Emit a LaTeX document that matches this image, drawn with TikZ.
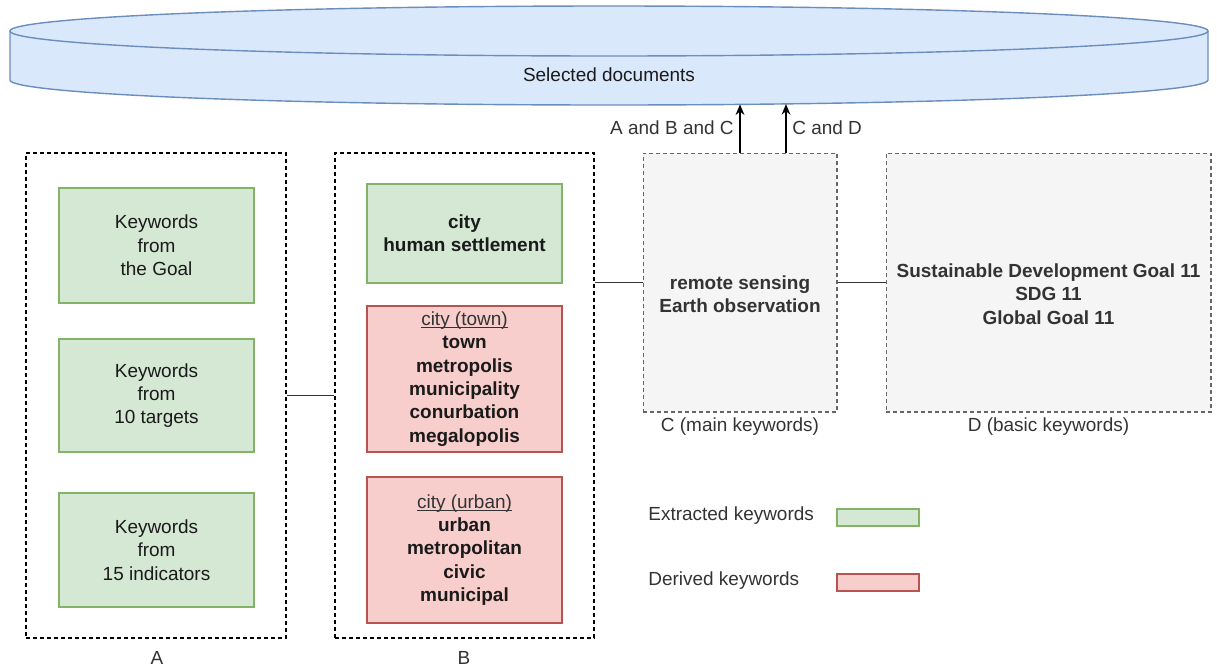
\documentclass[tikz,border=0pt]{standalone}
\usepackage{fontspec}
\setmainfont{Liberation Sans}
\usetikzlibrary{arrows.meta}
\definecolor{dbfill}{HTML}{DAE8FC}
\definecolor{dbline}{HTML}{6C8EBF}
\definecolor{gfill}{HTML}{D5E8D4}
\definecolor{gline}{HTML}{82B366}
\definecolor{rfill}{HTML}{F8CECC}
\definecolor{rline}{HTML}{B85450}
\definecolor{cfill}{HTML}{F5F5F5}
\definecolor{cline}{HTML}{666666}
\definecolor{txt}{HTML}{1A1A1A}
\definecolor{lbl}{HTML}{333333}
\newcommand\myul[1]{\setbox0=\hbox{#1}\rlap{\rule[-1.5pt]{\wd0}{0.45pt}}\box0}
\tikzset{
  base/.style={font=\fontsize{10.8}{13.3}\selectfont, text=txt, align=center, inner sep=0pt},
  groupbox/.style={draw=black, line width=0.9pt, dash pattern=on 0.08cm off 0.06cm, inner sep=0pt},
  kwbox/.style={draw=cline, fill=cfill, line width=0.6pt, dash pattern=on 0.08cm off 0.06cm, inner sep=0pt},
  greenbox/.style={base, draw=gline, fill=gfill, line width=0.6pt, minimum width=3.9cm},
  redbox/.style={base, draw=rline, fill=rfill, line width=0.6pt, minimum width=3.9cm, minimum height=2.92cm, font=\fontsize{10.8}{13.3}\selectfont\bfseries},
  lab/.style={base, text=lbl},
  conn/.style={draw=lbl, line width=1pt},
  arr/.style={draw=black, line width=0.9pt, -{Stealth[length=6pt,width=5pt]}}
}
\begin{document}
\begin{tikzpicture}[x=0.02cm,y=-0.02cm]
\useasboundingbox (0,0) rectangle (1217,670);
% cylinder
\path[fill=dbfill] (10,31) -- (10,80) arc[start angle=180,end angle=0,x radius=599,y radius=25] -- (1208,31) arc[start angle=0,end angle=-180,x radius=599,y radius=25] -- cycle;
\draw[dbline, line width=0.8pt] (609,31) ellipse[x radius=599,y radius=25];
\draw[dbline, line width=0.8pt] (10,31) -- (10,80) arc[start angle=180,end angle=0,x radius=599,y radius=25] -- (1208,31);
\node[base] (db) at (609,75) {Selected documents};
\coordinate (dbA) at (740,104.4);
\coordinate (dbB) at (786,104.1);

% group boxes
\node[groupbox, minimum width=5.2cm, minimum height=9.7cm] (A) at (156,395.5) {};
\node[groupbox, minimum width=5.18cm, minimum height=9.7cm] (B) at (464.5,395.5) {};
\node[kwbox, minimum width=3.88cm, minimum height=5.18cm] (C) at (740,282.5) {};
\node[kwbox, minimum width=6.5cm, minimum height=5.18cm] (D) at (1048.5,282.5) {};

% A contents
\node[greenbox, minimum height=2.3cm] (a1) at (156.5,245.5) {Keywords\\from\\the Goal};
\node[greenbox, minimum height=2.26cm] (a2) at (156.5,395.5) {Keywords\\from\\10 targets};
\node[greenbox, minimum height=2.28cm] (a3) at (156.5,550) {Keywords\\from\\15 indicators};

% B contents
\node[greenbox, minimum height=1.98cm, font=\fontsize{10.8}{13.3}\selectfont\bfseries] (b1) at (464.5,233.5) {city\\human settlement};
\node[redbox] (b2) at (464.5,379) {\mdseries\color{lbl}\myul{city (town)}\\town\\metropolis\\municipality\\conurbation\\megalopolis};
\node[redbox] (b3) at (464.5,550) {\mdseries\color{lbl}\myul{city (urban)}\\urban\\metropolitan\\civic\\municipal};

% C and D text
\node[base, text=lbl, font=\fontsize{10.8}{13.3}\selectfont\bfseries] (ct) at (740,294) {remote sensing\\Earth observation};
\node[base, text=lbl, font=\fontsize{10.8}{13.3}\selectfont\bfseries] (dt) at (1048.5,294) {Sustainable Development Goal 11\\SDG 11\\Global Goal 11};

% labels
\node[lab] (la) at (157,658) {A};
\node[lab] (lb) at (464,658) {B};
\node[lab] (lc) at (740,427) {C (main keywords)};
\node[lab] (ld) at (1048.5,427) {D (basic keywords)};

% connectors
\draw[conn] (A.east) -- (B.west);
\draw[conn] (C.west -| B.east) -- (C.west);
\draw[conn] (C.east) -- (D.west);

% arrows
\draw[arr] (C.north) -- (dbA);
\draw[arr] (C.north -| dbB) -- (dbB);
\node[lab, anchor=east] (l1) at (734,128) {A and B and C};
\node[lab, anchor=west] (l2) at (792,128) {C and D};

% legend
\node[lab, anchor=west] (le1) at (648,516) {Extracted keywords};
\node[draw=gline, fill=gfill, line width=0.6pt, minimum width=1.64cm, minimum height=0.34cm, inner sep=0pt] (lg1) at (878,517.5) {};
\node[lab, anchor=west] (le2) at (648,581) {Derived keywords};
\node[draw=rline, fill=rfill, line width=0.6pt, minimum width=1.64cm, minimum height=0.34cm, inner sep=0pt] (lg2) at (878,582.5) {};
\end{tikzpicture}
\end{document}
